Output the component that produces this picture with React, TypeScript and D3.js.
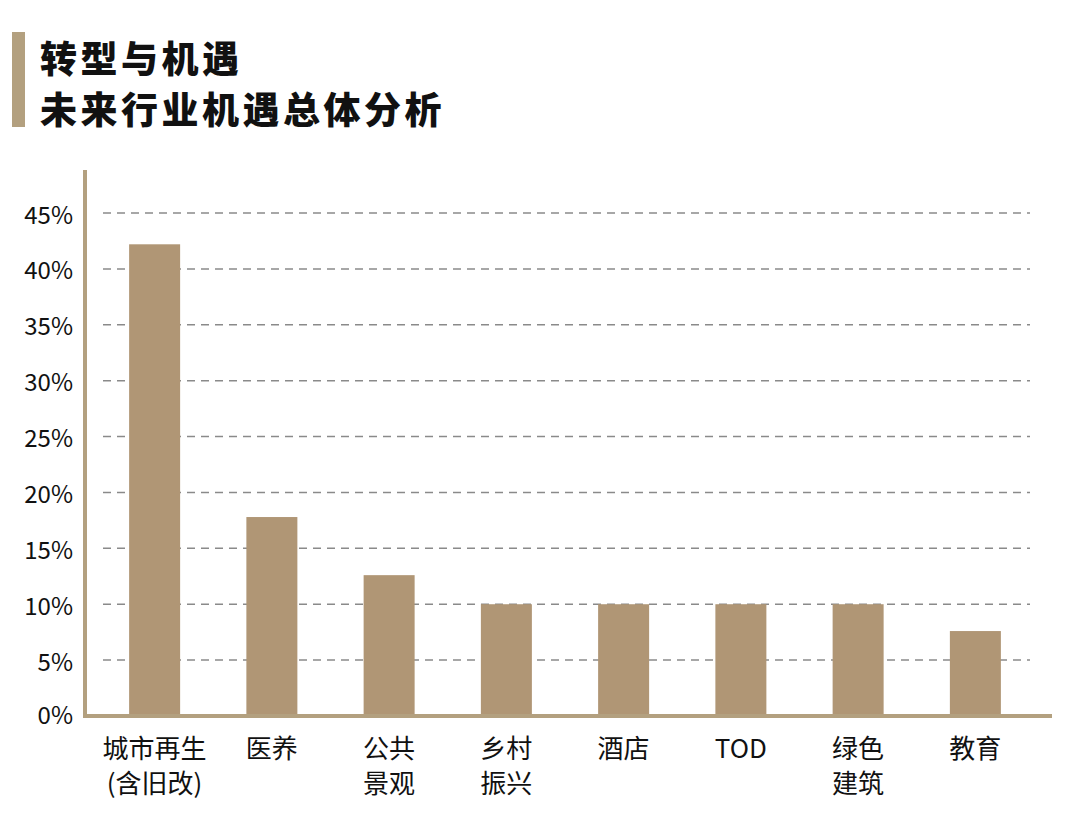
import React from "react";
import * as d3 from "d3";

const categories = ["城市再生|(含旧改)", "医养", "公共|景观", "乡村|振兴", "酒店", "TOD", "绿色|建筑", "教育"];
const values = [42.2, 17.8, 12.6, 10, 10, 10, 10, 7.6];
const yTicks = [0, 5, 10, 15, 20, 25, 30, 35, 40, 45];
const titleLines = ["转型与机遇", "未来行业机遇总体分析"];

const W = 1080;
const H = 822;
const FONT = "'Noto Sans CJK SC', 'Noto Sans', sans-serif";
const BAR = "#b09675";
const AXIS = "#b3a07f";

export default function App() {
  const x = d3
    .scaleBand<string>()
    .domain(categories)
    .range([96, 1034])
    .paddingInner(0.565)
    .paddingOuter(0.2825);
  const y = d3.scaleLinear().domain([0, 45]).range([716, 213]);

  return (
    <svg
      width={W}
      height={H}
      style={{ position: "absolute", left: 0, top: 0, background: "#fff" }}
      fontFamily={FONT}
    >
      <rect x={12} y={32} width={13} height={95} fill={AXIS} />
      {titleLines.map((t, i) => (
        <text
          key={t}
          x={40}
          y={57 + i * 51}
          dominantBaseline="central"
          fontSize={37}
          fontWeight={900}
          letterSpacing={3.5}
          fill="#111"
        >
          {t}
        </text>
      ))}

      {yTicks.filter((t) => t > 0).map((t) => (
        <line
          key={"g" + t}
          x1={103}
          x2={1030}
          y1={y(t)}
          y2={y(t)}
          stroke="#8a8a8a"
          strokeWidth={1.5}
          strokeDasharray="8 6"
        />
      ))}

      {categories.map((c, i) => (
        <rect
          key={c}
          x={x(c)}
          y={y(values[i])}
          width={x.bandwidth()}
          height={y(0) - y(values[i])}
          fill={BAR}
        />
      ))}

      <line x1={85} x2={85} y1={170} y2={718} stroke={AXIS} strokeWidth={4} />
      <line x1={83} x2={1052} y1={716} y2={716} stroke={AXIS} strokeWidth={4} />

      {yTicks.map((t) => (
        <text
          key={"y" + t}
          x={73}
          y={t === 0 ? y(t) - 3 : y(t)}
          textAnchor="end"
          dominantBaseline="central"
          fontSize={24}
          fontWeight={400}
          fill="#111"
        >
          {t + "%"}
        </text>
      ))}

      {categories.map((c) =>
        c.split("|").map((line, j) => (
          <text
            key={c + j}
            x={(x(c) as number) + x.bandwidth() / 2}
            y={746 + j * 35}
            textAnchor="middle"
            dominantBaseline="central"
            fontSize={26}
            fontWeight={400}
            fill="#111"
          >
            {line}
          </text>
        ))
      )}
    </svg>
  );
}
